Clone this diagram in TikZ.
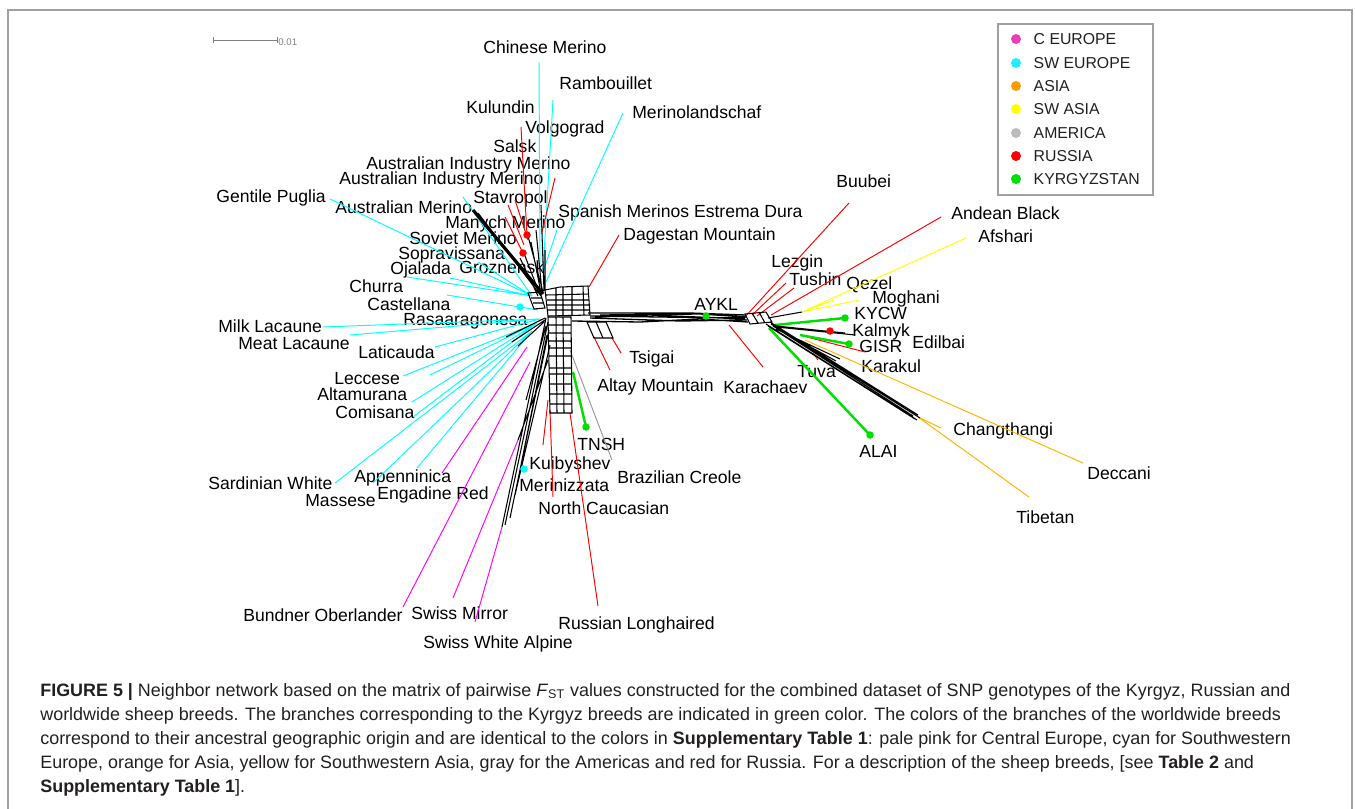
\documentclass[tikz,border=0pt]{standalone}
\usepackage{fontspec}
\setmainfont{Liberation Sans}
\usetikzlibrary{positioning}
\definecolor{ceuc}{HTML}{FF00FF}
\definecolor{ceudot}{HTML}{F03CB4}
\definecolor{swec}{HTML}{00FFFF}
\definecolor{swedot}{HTML}{22EEFF}
\definecolor{asiac}{HTML}{FFB400}
\definecolor{asiadot}{HTML}{FF9A00}
\definecolor{swac}{HTML}{FFFF00}
\definecolor{amc}{HTML}{9A9A9A}
\definecolor{amdot}{HTML}{BBBBBB}
\definecolor{rusc}{HTML}{FF0000}
\definecolor{kgzc}{HTML}{00E000}
\definecolor{framec}{HTML}{A0A0A0}
\definecolor{capc}{HTML}{231F20}

\begin{document}
\begin{tikzpicture}[x=0.02cm,y=-0.02cm,
  br/.style={line width=0.55pt},
  net/.style={black,line width=0.6pt},
  kg/.style={kgzc,line width=1.4pt},
  tip/.style={circle,fill,inner sep=0pt,minimum size=0.15cm},
  lab/.style={anchor=west,inner sep=0pt,text height=7.2pt,text depth=0pt,font=\fontsize{10}{12}\selectfont},
  legdot/.style={circle,fill,inner sep=0pt,minimum size=0.2cm},
  legtxt/.style={right=0.24cm of #1,inner sep=0pt,text height=6.5pt,text depth=0pt,font=\fontsize{9}{11}\selectfont,text=capc},
  caption/.style={anchor=base west,inner sep=0pt,font=\fontsize{10.2}{12}\selectfont,text=capc}]
\useasboundingbox (0,0) rectangle (1355,808);
\draw[framec,line width=0.6pt] (8,812) -- (8,10) -- (1352,10) -- (1352,812);

\draw[gray] (213,40) -- (277,40) (213,37) -- (213,43) (277,37) -- (277,43);
\node[anchor=west,inner sep=0pt,font=\fontsize{5.5}{6}\selectfont,text=gray] (scale) at (278,42) {0.01};

\node[lab] (lChinese) at (483,47) {Chinese Merino};
\node[lab] (lRambouillet) at (559,83) {Rambouillet};
\node[lab] (lMerinoland) at (632,112) {Merinolandschaf};
\node[lab] (lKulundin) at (466,107) {Kulundin};
\node[lab] (lVolgograd) at (525,127) {Volgograd};
\node[lab] (lSalsk) at (493,146) {Salsk};
\node[lab] (lAusInd) at (366,163) {Australian Industry Merino};
\node[lab] (lAusIndB) at (339,178) {Australian Industry Merino};
\node[lab] (lGentile) at (216,196) {Gentile Puglia};
\node[lab] (lStavropol) at (473,197) {Stavropol};
\node[lab] (lAusMer) at (335,207) {Australian Merino};
\node[lab] (lSpanish) at (558,211) {Spanish Merinos Estrema Dura};
\node[lab] (lManych) at (445,222) {Manych Merino};
\node[lab] (lDagestan) at (623,234) {Dagestan Mountain};
\node[lab] (lSoviet) at (409,238) {Soviet Merino};
\node[lab] (lSopra) at (398,253) {Sopravissana};
\node[lab] (lGrozn) at (459,267) {Groznensk};
\node[lab] (lOjalada) at (390,268) {Ojalada};
\node[lab] (lChurra) at (349,286) {Churra};
\node[lab] (lCastellana) at (367,304) {Castellana};
\node[lab] (lRasa) at (403,319) {Rasaaragonesa};
\node[lab] (lMilk) at (218,326) {Milk Lacaune};
\node[lab] (lMeat) at (238,343) {Meat Lacaune};
\node[lab] (lLaticauda) at (358,352) {Laticauda};
\node[lab] (lLeccese) at (334,378) {Leccese};
\node[lab] (lAltamurana) at (317,394) {Altamurana};
\node[lab] (lComisana) at (335,412) {Comisana};
\node[lab] (lSardinian) at (208,483) {Sardinian White};
\node[lab] (lAppenninica) at (354,476) {Appenninica};
\node[lab] (lMassese) at (305,500) {Massese};
\node[lab] (lEngadine) at (377,493) {Engadine Red};
\node[lab] (lKuibyshev) at (529,463) {Kuibyshev};
\node[lab] (lMerinizzata) at (519,485) {Merinizzata};
\node[lab] (lNorthCauc) at (538,508) {North Caucasian};
\node[lab] (lTNSH) at (577,444) {TNSH};
\node[lab] (lBrazilian) at (617,477) {Brazilian Creole};
\node[lab] (lTsigai) at (629,357) {Tsigai};
\node[lab] (lAltay) at (597,385) {Altay Mountain};
\node[lab] (lKarachaev) at (723,387) {Karachaev};
\node[lab] (lBundner) at (243,615) {Bundner Oberlander};
\node[lab] (lSwissMirror) at (411,613) {Swiss Mirror};
\node[lab] (lSwissWhite) at (423,642) {Swiss White Alpine};
\node[lab] (lRussLong) at (558,623) {Russian Longhaired};
\node[lab] (lAYKL) at (694,304) {AYKL};
\node[lab] (lBuubei) at (836,181) {Buubei};
\node[lab] (lAndean) at (951,213) {Andean Black};
\node[lab] (lAfshari) at (978,236) {Afshari};
\node[lab] (lLezgin) at (771,261) {Lezgin};
\node[lab] (lTushin) at (789,279) {Tushin};
\node[lab] (lQezel) at (846,283) {Qezel};
\node[lab] (lMoghani) at (872,297) {Moghani};
\node[lab] (lKYCW) at (854,313) {KYCW};
\node[lab] (lKalmyk) at (852,330) {Kalmyk};
\node[lab] (lEdilbai) at (912,342) {Edilbai};
\node[lab] (lGISR) at (859,346) {GISR};
\node[lab] (lKarakul) at (861,366) {Karakul};
\node[lab] (lTuva) at (797,371) {Tuva};
\node[lab] (lChangthangi) at (953,429) {Changthangi};
\node[lab] (lALAI) at (859,451) {ALAI};
\node[lab] (lDeccani) at (1087,473) {Deccani};
\node[lab] (lTibetan) at (1016,517) {Tibetan};

\path (540,265) coordinate (cTopA) (543,272) coordinate (cTopB) (546,282) coordinate (cTopC)
  (532,296) coordinate (cUL) (538,310) coordinate (cCast)
  (540,319) coordinate (cLA) (537,323) coordinate (cLB) (532,331) coordinate (cLC)
  (527,347) coordinate (cEng) (530,362) coordinate (cBun) (518,440) coordinate (cMir) (502,527) coordinate (cSwa)
  (589,287) coordinate (cDag) (612,338) coordinate (cTsi) (594,337) coordinate (cAlt)
  (548,400) coordinate (cKui) (550,410) coordinate (cNC) (570,413) coordinate (cRL)
  (570,350) coordinate (cBra) (573,372) coordinate (cTN)
  (729,325) coordinate (cKar) (744,318) coordinate (cBuu) (752,315) coordinate (cLez) (757,316) coordinate (cTus)
  (771,315) coordinate (cAnd) (802,312) coordinate (cYel) (775,325) coordinate (cKy) (800,335) coordinate (cGi)
  (769,328) coordinate (cAl) (807,337) coordinate (cEd) (813,353) coordinate (cTuv) (805,340) coordinate (cDec)
  (918,417) coordinate (cEnd);

\path (539,62) coordinate (tChinese) (553,100) coordinate (tRambouillet) (623,113) coordinate (tMerinoland)
  (557,230) coordinate (tSpanish) (463,197) coordinate (tAusInd) (330,199) coordinate (tGentile)
  (478,262) coordinate (tGrozn) (407,277) coordinate (tOjalada) (450,278) coordinate (tChurra)
  (447,295) coordinate (tCastellana) (323,327) coordinate (tMilk) (350,335) coordinate (tMeat)
  (435,347) coordinate (tLaticauda) (403,376) coordinate (tLeccese) (430,375) coordinate (tLecceseB)
  (412,402) coordinate (tAltamurana) (413,417) coordinate (tComisana) (417,468) coordinate (tAppenninica)
  (335,483) coordinate (tSardinian) (373,483) coordinate (tMassese)
  (442,473) coordinate (tEngadine) (403,607) coordinate (tBundner) (453,598) coordinate (tSwissMirror)
  (475,622) coordinate (tSwissWhite)
  (521,127) coordinate (tKulundin) (555,178) coordinate (tVolgograd) (508,205) coordinate (tStavA)
  (515,200) coordinate (tStavB) (505,217) coordinate (tManych) (527,235) coordinate (tKulBase)
  (542,232) coordinate (tVolBase) (524,245) coordinate (tStavABase) (528,240) coordinate (tStavBBase)
  (523,253) coordinate (tManBase)
  (619,235) coordinate (tDagestan) (621,353) coordinate (tTsigai) (610,370) coordinate (tAltay)
  (543,445) coordinate (tKuibyshev) (553,497) coordinate (tNorthCauc) (598,606) coordinate (tRussLong)
  (763,367) coordinate (tKarachaev) (849,203) coordinate (tBuubei) (786,283) coordinate (tLezgin)
  (794,288) coordinate (tTushin) (941,217) coordinate (tAndean) (865,352) coordinate (tEdilbai)
  (818,360) coordinate (tTuva)
  (966,238) coordinate (tAfshari) (834,300) coordinate (tQezel) (859,300) coordinate (tMoghani)
  (941,428) coordinate (tChangthangi) (1083,463) coordinate (tDeccani) (1029,497) coordinate (tTibetan)
  (612,460) coordinate (tBrazilian)
  (845,318) coordinate (tKYCW) (849,344) coordinate (tGISR) (870,435) coordinate (tALAI) (586,427) coordinate (tTNSH)
  (706,316) coordinate (tAYKL) (830,331) coordinate (tKalmyk) (520,307) coordinate (tCastDot) (524,469) coordinate (tMerinizzata);

\draw[swec,br] (cTopA) -- (tChinese) (cTopB) -- (tRambouillet) (cTopC) -- (tMerinoland) (cTopB) -- (tSpanish)
  (cUL) -- (tAusInd) (cUL) -- (tGentile) (cUL) -- (tGrozn) (cUL) -- (tOjalada) (cUL) -- (tChurra)
  (cCast) -- (tCastellana) (cLA) -- (tMilk) (cLA) -- (tMeat) (cLA) -- (tLaticauda)
  (cLB) -- (tLeccese) (cLB) -- (tLecceseB) (cLB) -- (tAltamurana) (cLB) -- (tComisana)
  (cLC) -- (tAppenninica) (cLC) -- (tSardinian) (cLC) -- (tMassese);
\draw[ceuc,br] (cEng) -- (tEngadine) (cBun) -- (tBundner) (cMir) -- (tSwissMirror) (cSwa) -- (tSwissWhite);
\draw[rusc,br] (tKulBase) -- (tKulundin) (tVolBase) -- (tVolgograd) (tStavABase) -- (tStavA)
  (tStavBBase) -- (tStavB) (tManBase) -- (tManych)
  (cDag) -- (tDagestan) (cTsi) -- (tTsigai) (cAlt) -- (tAltay) (cKui) -- (tKuibyshev)
  (cNC) -- (tNorthCauc) (cRL) -- (tRussLong) (cKar) -- (tKarachaev) (cBuu) -- (tBuubei)
  (cLez) -- (tLezgin) (cTus) -- (tTushin) (cAnd) -- (tAndean) (cEd) -- (tEdilbai) (cTuv) -- (tTuva);
\draw[swac,br] (cYel) -- (tAfshari) (cYel) -- (tQezel) (cYel) -- (tMoghani);
\draw[asiac,br] (cEnd) -- (tChangthangi) (cDec) -- (tDeccani) (cEnd) -- (tTibetan);
\draw[amc,br] (cBra) -- (tBrazilian);
\draw[kg] (cKy) -- (tKYCW) (cGi) -- (tGISR) (cAl) -- (tALAI) (cTN) -- (tTNSH);

\draw[net,line width=0.75pt] (588,313) -- (690,313) -- (746,315) (590,316) -- (660,317) -- (745,318)
  (590,318) -- (680,321) -- (747,320) (572,321) -- (640,322) -- (700,319) -- (748,322)
  (600,315) -- (700,314) -- (746,317) (595,317) -- (650,315) -- (745,319);
\draw[net] (545,290) -- (560,287) -- (588,286) -- (590,315) -- (548,316) -- cycle
  (546,295) -- (589,294) (547,300) -- (589,300) (547,305) -- (590,305) (548,310) -- (590,310)
  (556,288) -- (556,315) (563,287) -- (563,315) (572,287) -- (572,315) (583,286) -- (584,315);
\draw[net] (528,293) -- (540,292) -- (545,308) -- (534,309) -- cycle (531,298) -- (542,298) (533,303) -- (544,303);
\draw[net] (548,317) -- (571,317) -- (572,413) -- (550,413) -- cycle
  (548,325) -- (571,325) (548,333) -- (571,333) (549,341) -- (571,341) (549,348) -- (571,348)
  (549,356) -- (571,356) (549,368) -- (571,368) (549,374) -- (572,374) (550,384) -- (572,384)
  (550,394) -- (572,394) (550,404) -- (572,404) (556,317) -- (557,413) (563,317) -- (564,413);
\draw[net] (587,322) -- (606,322) -- (613,338) -- (594,338) -- cycle (596,322) -- (603,338);
\draw[net,line width=1.8pt] (473,210) -- (543,294);
\draw[net] (478,213) -- (541,296) (541,205) -- (544,291) (536,230) -- (542,292) (531,242) -- (541,293)
  (525,256) -- (540,295) (520,258) -- (538,296) (545,250) -- (545,290) (528,236) -- (543,292);
\draw[net] (546,318) -- (502,527) (548,322) -- (505,525) (549,330) -- (510,518) (550,345) -- (515,495)
  (548,360) -- (518,440) (545,318) -- (506,337) (545,320) -- (512,342) (544,322) -- (518,346)
  (547,335) -- (520,470) (546,326) -- (526,400);
\draw[net] (745,314) -- (766,312) -- (772,322) -- (750,324) -- cycle (752,313) -- (758,323) (759,312) -- (765,323);
\draw[net] (770,322) -- (918,415) (771,324) -- (920,418) (768,326) -- (915,419) (773,326) -- (913,416)
  (766,324) -- (917,420) (768,318) -- (802,312) (776,327) -- (855,335) (776,326) -- (845,333)
  (776,329) -- (840,359) (778,329) -- (836,361);

\node[tip,kgzc] (dAYKL) at (tAYKL) {};
\node[tip,kgzc] (dKYCW) at (tKYCW) {};
\node[tip,kgzc] (dGISR) at (tGISR) {};
\node[tip,kgzc] (dALAI) at (tALAI) {};
\node[tip,kgzc] (dTNSH) at (tTNSH) {};
\node[tip,rusc] (dKalmyk) at (tKalmyk) {};
\node[tip,rusc] (dKulundin) at (tKulBase) {};
\node[tip,rusc] (dManych) at (tManBase) {};
\node[tip,swec] (dCastellana) at (tCastDot) {};
\node[tip,swec] (dMerinizzata) at (tMerinizzata) {};

\draw[framec,line width=0.6pt] (998,24) rectangle (1153,195);
\node[legdot,ceudot] (kCEU) at (1016,39) {};
\node[legtxt=kCEU] (tCEU) {C EUROPE};
\node[legdot,swedot] (kSWE) at (1016,63) {};
\node[legtxt=kSWE] (tSWE) {SW EUROPE};
\node[legdot,asiadot] (kASIA) at (1016,86) {};
\node[legtxt=kASIA] (tASIA) {ASIA};
\node[legdot,swac] (kSWA) at (1016,109) {};
\node[legtxt=kSWA] (tSWA) {SW ASIA};
\node[legdot,amdot] (kAM) at (1016,133) {};
\node[legtxt=kAM] (tAM) {AMERICA};
\node[legdot,rusc] (kRUS) at (1016,156) {};
\node[legtxt=kRUS] (tRUS) {RUSSIA};
\node[legdot,kgzc] (kKGZ) at (1016,179) {};
\node[legtxt=kKGZ] (tKGZ) {KYRGYZSTAN};

\node[caption] (cap1) at (40,696) {\textbf{FIGURE 5 |} Neighbor network based on the matrix of pairwise \textit{F}\textsubscript{ST} values constructed for the combined dataset of SNP genotypes of the Kyrgyz, Russian and};
\node[caption] (cap2) at (40,720) {worldwide sheep breeds. The branches corresponding to the Kyrgyz breeds are indicated in green color. The colors of the branches of the worldwide breeds};
\node[caption] (cap3) at (40,744) {correspond to their ancestral geographic origin and are identical to the colors in \textbf{Supplementary Table 1}: pale pink for Central Europe, cyan for Southwestern};
\node[caption] (cap4) at (40,768) {Europe, orange for Asia, yellow for Southwestern Asia, gray for the Americas and red for Russia. For a description of the sheep breeds, [see \textbf{Table 2} and};
\node[caption] (cap5) at (40,792) {\textbf{Supplementary Table 1}].};
\end{tikzpicture}
\end{document}
